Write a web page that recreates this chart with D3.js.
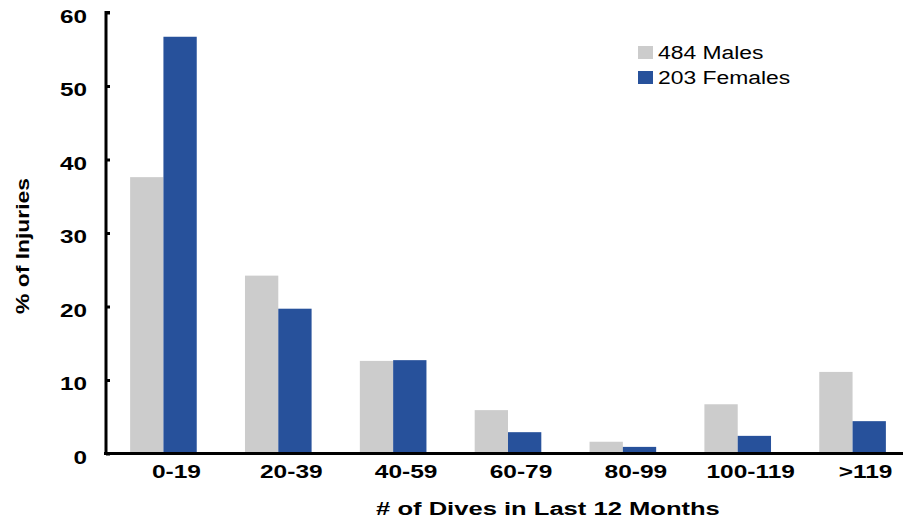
<!DOCTYPE html>
<html><head><meta charset="utf-8">
<script src="https://cdn.jsdelivr.net/npm/d3@7"></script>
<style>body{margin:0;background:#fff}svg{display:block}text{font-family:"Liberation Sans",Arial,sans-serif}</style>
</head><body>
<svg id="c" width="903" height="523"></svg>
<script>
const categories = ["0-19","20-39","40-59","60-79","80-99","100-119",">119"];
const males = [37.6, 24.2, 12.6, 5.9, 1.6, 6.7, 11.1];
const females = [56.7, 19.7, 12.7, 2.9, 0.9, 2.4, 4.4];
const seriesNames = ["484 Males","203 Females"];
const yTicks = [0,10,20,30,40,50,60];
const colors = ["#cccccc","#27519b"];

const svg = d3.select("#c");
const x0 = 106, x1 = 910, yTop = 12.5, yBot = 453.5;
const x = d3.scaleBand().domain(categories).range([x0, x1]).paddingInner(0.42).paddingOuter(0.21);
const xs = d3.scaleBand().domain([0,1]).range([0, x.bandwidth()]);
const y = d3.scaleLinear().domain([0,60]).range([yBot, yTop]);

function stretch(sel, f) {
  sel.each(function() {
    const w = this.getComputedTextLength();
    d3.select(this).attr("textLength", w * f).attr("lengthAdjust", "spacingAndGlyphs");
  });
}

const series = [males, females];
series.forEach((vals, si) => {
  svg.append("g").selectAll("rect").data(vals).join("rect")
    .attr("x", (d,i) => x(categories[i]) + xs(si))
    .attr("width", xs.bandwidth())
    .attr("y", d => y(d))
    .attr("height", d => yBot - y(d))
    .attr("fill", colors[si]);
});

// y axis
const ya = svg.append("g").attr("transform", `translate(${x0},0)`)
  .call(d3.axisRight(y).tickValues(yTicks).tickSize(4).tickFormat(""));
ya.select(".domain").attr("stroke", "#000").attr("stroke-width", 3).attr("d", `M4,${yTop}H0V${yBot+1.5}`);
ya.selectAll(".tick line").attr("stroke", "#000").attr("stroke-width", 3);
const yl = svg.append("g").selectAll("text").data(yTicks).join("text")
  .attr("x", 87).attr("y", d => y(d) + 10).attr("text-anchor", "end")
  .attr("font-size", 18).attr("font-weight", "bold").text(d => d);
stretch(yl, 1.35);

// x axis
const xa = svg.append("g").attr("transform", `translate(0,${yBot})`)
  .call(d3.axisBottom(x).tickSize(0));
xa.select(".domain").attr("stroke", "#000").attr("stroke-width", 3).attr("d", `M${x0-2},0H903`);
const xl = xa.selectAll(".tick text").attr("font-size", 18).attr("font-weight", "bold").attr("fill", "#000")
  .attr("dy", 0).attr("y", 24).attr("x", 13).style("font-family", '"Liberation Sans",Arial,sans-serif');
stretch(xl, 1.36);

// titles
const xt = svg.append("text").attr("x", 548).attr("y", 515).attr("text-anchor", "middle")
  .attr("font-size", 18).attr("font-weight", "bold").text("# of Dives in Last 12 Months");
stretch(xt, 1.42);
const yt = svg.append("text").attr("transform", "translate(29,246) rotate(-90)").attr("text-anchor", "middle")
  .attr("font-size", 18).attr("font-weight", "bold").text("% of Injuries");
stretch(yt, 1.27);

// legend
const lg = svg.append("g");
seriesNames.forEach((n, i) => {
  lg.append("rect").attr("x", 638).attr("y", 46 + i*25).attr("width", 15).attr("height", 13).attr("fill", colors[i]);
  const t = lg.append("text").attr("x", 658).attr("y", 59 + i*25).attr("font-size", 18).text(n);
  stretch(t, 1.27);
});
</script>
</body></html>
